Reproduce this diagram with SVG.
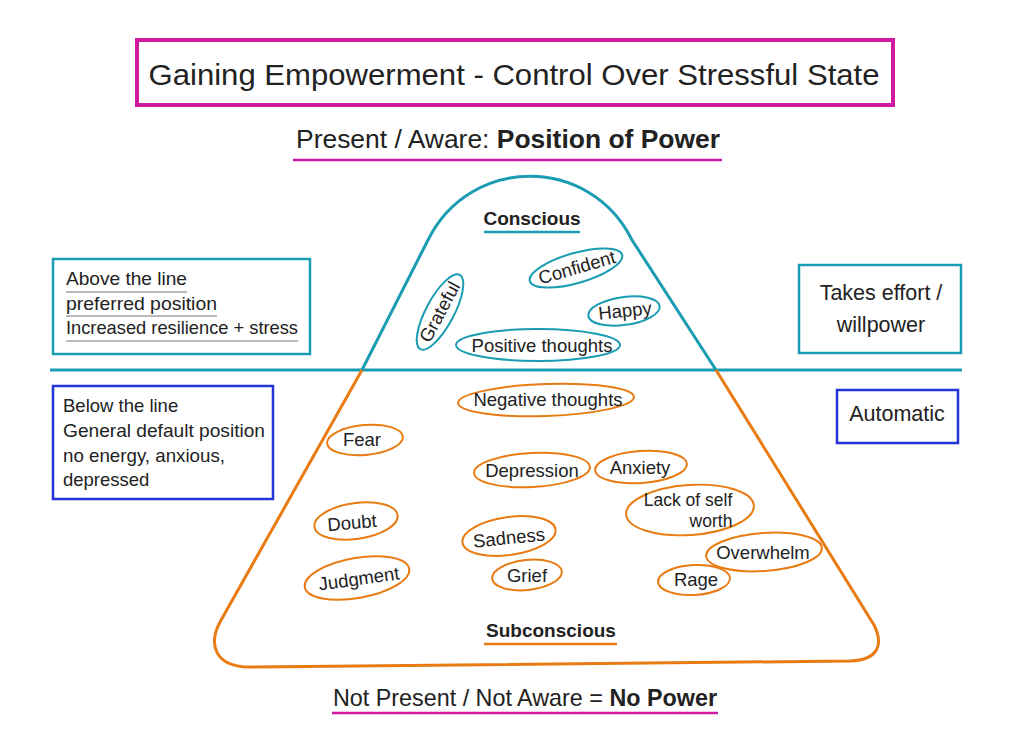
<svg xmlns="http://www.w3.org/2000/svg" width="1024" height="749" viewBox="0 0 1024 749">
<style>
text{font-family:"Liberation Sans",Arial,sans-serif;fill:#222}
.t{stroke:#1a9cb2;fill:none}
.o{stroke:#e87b12;fill:none}
.m{stroke:#cf1aa0;fill:none}
.b{stroke:#2435d6;fill:none}
.w{font-size:18.5px;text-anchor:middle}
.bx{font-size:18.5px}
.rb{font-size:21.5px;text-anchor:middle}
.bold{font-weight:bold}
</style>
<rect width="1024" height="749" fill="#fff"/>
<g id="title">
<rect class="m" x="137" y="40" width="756" height="65" stroke-width="4"/>
<text x="514" y="85" font-size="30" text-anchor="middle" textLength="731" lengthAdjust="spacingAndGlyphs">Gaining Empowerment - Control Over Stressful State</text>
</g>
<g id="top-label">
<text x="508" y="148" font-size="25" text-anchor="middle" textLength="424" lengthAdjust="spacingAndGlyphs">Present / Aware: <tspan class="bold">Position of Power</tspan></text>
<line class="m" x1="293" y1="160" x2="722" y2="160" stroke-width="2.5"/>
</g>
<g id="divider"><line class="t" x1="50" y1="370" x2="962" y2="370" stroke-width="3"/></g>
<g id="conscious">
<path class="t" stroke-width="3" d="M362,370 L428,240 C470,155 590,155 632,240 L716,370"/>
<text x="532" y="225" font-size="19" class="bold" text-anchor="middle">Conscious</text>
<line class="t" x1="484" y1="232" x2="580" y2="232" stroke-width="2.5"/>
</g>
<g id="subconscious">
<path class="o" stroke-width="3" d="M362,370 L220,622 C208,645 215,667 250,667 L850,661 C878,660 884,645 874,625 L716,370"/>
<text x="551" y="637" font-size="19" class="bold" text-anchor="middle">Subconscious</text>
<line class="o" x1="484" y1="644" x2="617" y2="644" stroke-width="2.5"/>
</g>
<g id="above-box">
<rect class="t" x="53" y="259" width="257" height="95" stroke-width="2.5"/>
<text class="bx" x="66" y="285" textLength="121" lengthAdjust="spacingAndGlyphs">Above the line</text>
<line x1="66" y1="292" x2="187" y2="292" stroke="#777" stroke-width="1.2"/>
<text class="bx" x="66" y="310" textLength="151" lengthAdjust="spacingAndGlyphs">preferred position</text>
<line x1="66" y1="316" x2="217" y2="316" stroke="#777" stroke-width="1.2"/>
<text class="bx" x="66" y="334" textLength="232" lengthAdjust="spacingAndGlyphs">Increased resilience + stress</text>
<line x1="66" y1="341" x2="298" y2="341" stroke="#777" stroke-width="1.2"/>
</g>
<g id="effort-box">
<rect class="t" x="799" y="265" width="162" height="88" stroke-width="2.5"/>
<text class="rb" x="881" y="300">Takes effort /</text>
<text class="rb" x="881" y="332">willpower</text>
</g>
<g id="below-box">
<rect class="b" x="53" y="386" width="220" height="113" stroke-width="2.5"/>
<text class="bx" x="63" y="412">Below the line</text>
<text class="bx" x="63" y="437" textLength="202" lengthAdjust="spacingAndGlyphs">General default position</text>
<text class="bx" x="63" y="462" textLength="162" lengthAdjust="spacingAndGlyphs">no energy, anxious,</text>
<text class="bx" x="63" y="486">depressed</text>
</g>
<g id="automatic-box">
<rect class="b" x="837" y="390" width="121" height="53" stroke-width="2.5"/>
<text class="rb" x="897" y="421">Automatic</text>
</g>
<g id="grateful"><ellipse class="t" cx="440" cy="312" rx="42" ry="14" transform="rotate(-62 440 312)" stroke-width="2"/><text class="w" x="440" y="318" transform="rotate(-62 440 312)">Grateful</text></g>
<g id="confident"><ellipse class="t" cx="576" cy="268" rx="48" ry="15" transform="rotate(-16 576 268)" stroke-width="2"/><text class="w" x="577" y="274" transform="rotate(-16 576 268)">Confident</text></g>
<g id="happy"><ellipse class="t" cx="624" cy="311" rx="36" ry="14" transform="rotate(-8 624 311)" stroke-width="2"/><text class="w" x="625" y="317" transform="rotate(-6 625 311)">Happy</text></g>
<g id="positive"><ellipse class="t" cx="538" cy="345" rx="82" ry="16" stroke-width="2"/><text class="w" x="542" y="352">Positive thoughts</text></g>
<g id="negative"><ellipse class="o" cx="546" cy="400" rx="88" ry="16" transform="rotate(-2 546 400)" stroke-width="2"/><text class="w" x="548" y="406">Negative thoughts</text></g>
<g id="fear"><ellipse class="o" cx="365" cy="440" rx="38" ry="15" transform="rotate(-5 365 440)" stroke-width="2"/><text class="w" x="362" y="446">Fear</text></g>
<g id="depression"><ellipse class="o" cx="532" cy="470" rx="58" ry="17" transform="rotate(-3 532 470)" stroke-width="2"/><text class="w" x="532" y="477">Depression</text></g>
<g id="anxiety"><ellipse class="o" cx="641" cy="467" rx="46" ry="16" transform="rotate(-4 641 467)" stroke-width="2"/><text class="w" x="640" y="474">Anxiety</text></g>
<g id="lack"><ellipse class="o" cx="690" cy="510" rx="64" ry="25" transform="rotate(-4 690 510)" stroke-width="2"/><text x="688" y="506" font-size="17.5" text-anchor="middle">Lack of self</text><text x="711" y="527" font-size="17.5" text-anchor="middle">worth</text></g>
<g id="doubt"><ellipse class="o" cx="356" cy="521" rx="42" ry="18" transform="rotate(-8 356 521)" stroke-width="2"/><text class="w" x="352" y="529" transform="rotate(-5 352 523)">Doubt</text></g>
<g id="sadness"><ellipse class="o" cx="509" cy="536" rx="47" ry="19" transform="rotate(-8 509 536)" stroke-width="2"/><text class="w" x="509" y="544" transform="rotate(-6 509 538)">Sadness</text></g>
<g id="grief"><ellipse class="o" cx="527" cy="575" rx="35" ry="15" transform="rotate(-6 527 575)" stroke-width="2"/><text class="w" x="527" y="582">Grief</text></g>
<g id="judgment"><ellipse class="o" cx="357" cy="578" rx="53" ry="20" transform="rotate(-10 357 578)" stroke-width="2"/><text class="w" x="359" y="585" transform="rotate(-8 359 579)">Judgment</text></g>
<g id="overwhelm"><ellipse class="o" cx="764" cy="552" rx="58" ry="19" transform="rotate(-4 764 552)" stroke-width="2"/><text class="w" x="763" y="559">Overwhelm</text></g>
<g id="rage"><ellipse class="o" cx="694" cy="580" rx="36" ry="15" transform="rotate(-3 694 580)" stroke-width="2"/><text class="w" x="696" y="586">Rage</text></g>
<g id="bottom-label">
<text x="525" y="706" font-size="24" text-anchor="middle" textLength="384" lengthAdjust="spacingAndGlyphs">Not Present / Not Aware = <tspan class="bold">No Power</tspan></text>
<line class="m" x1="332" y1="713" x2="718" y2="713" stroke-width="2.5"/>
</g>
<g id="connectors"/>
</svg>
